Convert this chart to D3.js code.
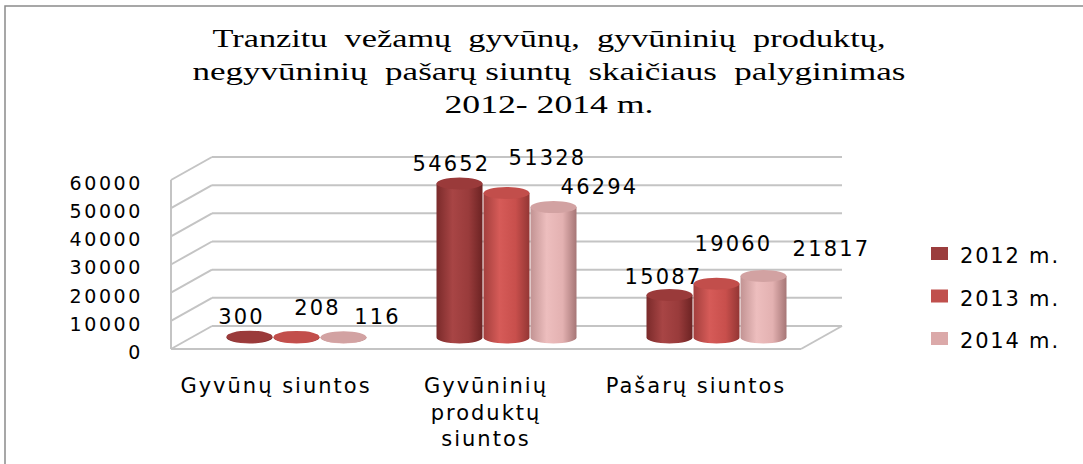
<!DOCTYPE html>
<html>
<head>
<meta charset="utf-8">
<script src="https://cdn.jsdelivr.net/npm/d3@7"></script>
<style>
  body { margin: 0; background: #fff; }
  svg { display: block; }
</style>
</head>
<body>
<div id="chart"></div>
<script>
"use strict"

// data
let titleLines = ["Tranzitu  vežamų  gyvūnų,  gyvūninių  produktų,",
                  "negyvūninių  pašarų siuntų  skaičiaus  palyginimas",
                  "2012- 2014 m."];
let categories = ["Gyvūnų siuntos", "Gyvūninių produktų siuntos", "Pašarų siuntos"];
let years = ["2012 m.", "2013 m.", "2014 m."];
let values2012 = [300, 54652, 15087];
let values2013 = [208, 51328, 19060];
let values2014 = [116, 46294, 21817];
let yTicks = [0, 10000, 20000, 30000, 40000, 50000, 60000];

let series = [values2012, values2013, values2014];

let width = 1083;
let height = 464;

// 3d box (back wall coords), depth goes down-left
let backLeft = 212, backRight = 842;
let depthX = -41, depthY = 23;

let svg = d3.select("#chart").append("svg")
            .attr("width", width)
            .attr("height", height)
            .style("font-family", "'DejaVu Sans', sans-serif");

// frame
svg.append("rect")
   .attr("x", 5).attr("y", 6)
   .attr("width", 1200).attr("height", 600)
   .attr("fill", "none")
   .attr("stroke", "#8a8a8a")
   .attr("stroke-width", 1.5);

// title
let titleWidths = [673, 713, 209];
svg.append("g").selectAll("text")
   .data(titleLines)
   .join("text")
   .attr("x", 549)
   .attr("y", (d, i) => 47 + i * 33)
   .attr("text-anchor", "middle")
   .attr("textLength", (d, i) => titleWidths[i])
   .attr("lengthAdjust", "spacingAndGlyphs")
   .style("font-family", "'Liberation Serif', serif")
   .style("font-size", "25px")
   .style("white-space", "pre")
   .attr("fill", "#000")
   .text(d => d);

let y = d3.scaleLinear()
          .domain([0, 60000])
          .range([326, 157]);

let x0 = d3.scaleBand()
           .domain(categories)
           .range([backLeft, backRight])
           .paddingInner(0)
           .paddingOuter(0);

let grid = svg.append("g")
              .attr("fill", "none")
              .attr("stroke", "#c4c4c4")
              .attr("stroke-width", 2);

// back wall gridlines + side wall
yTicks.forEach(function(t) {
  grid.append("line")
      .attr("x1", backLeft).attr("x2", backRight)
      .attr("y1", y(t)).attr("y2", y(t));
  grid.append("line")
      .attr("x1", backLeft).attr("y1", y(t))
      .attr("x2", backLeft + depthX).attr("y2", y(t) + depthY);
});
// front left edge
grid.append("line")
    .attr("x1", backLeft + depthX).attr("x2", backLeft + depthX)
    .attr("y1", y(60000) + depthY).attr("y2", y(0) + depthY);
// floor
grid.append("line")
    .attr("x1", backLeft + depthX).attr("x2", backRight + depthX)
    .attr("y1", y(0) + depthY).attr("y2", y(0) + depthY);
grid.append("line")
    .attr("x1", backRight).attr("y1", y(0))
    .attr("x2", backRight + depthX).attr("y2", y(0) + depthY);

// y axis labels
svg.append("g").selectAll("text")
   .data(yTicks)
   .join("text")
   .attr("x", 143)
   .attr("y", d => y(d) + depthY + 3)
   .attr("dy", "0.36em")
   .attr("text-anchor", "end")
   .style("font-size", "19px")
   .style("letter-spacing", "2.6px")
   .attr("fill", "#000")
   .text(d => d);

// gradients
let colors = [
  { stops: ["#7a2a2a", "#a84545", "#993b3b", "#6c2323"], top: "#9a3a3a", legend: "#9b3d3d" },
  { stops: ["#a33f3d", "#d65b58", "#c84f4c", "#933634"], top: "#c24e4b", legend: "#c0504d" },
  { stops: ["#c29393", "#edbebe", "#e3b1b1", "#a67676"], top: "#d2a2a2", legend: "#dba9a9" }
];
let defs = svg.append("defs");
colors.forEach(function(c, i) {
  let g = defs.append("linearGradient")
              .attr("id", "cyl" + i)
              .attr("x1", "0%").attr("x2", "100%")
              .attr("y1", "0%").attr("y2", "0%");
  [0, 35, 70, 100].forEach(function(o, k) {
    g.append("stop").attr("offset", o + "%").attr("stop-color", c.stops[k]);
  });
});

// cylinders sit at mid depth
let midX = depthX / 2, midY = depthY / 2;
let rx = 23, ry = 6, step = 47;

// label offsets from cylinder top [dx, dy], per series per category (excel 3d placement)
let labelOff = [
  [[-8, -13], [-8, -13], [-6, -11]],
  [[21, -22], [41, -28], [17, -33]],
  [[34, -13], [46, -13], [68, -20]]
];

let bars = svg.append("g");
let labels = svg.append("g");
series.forEach(function(vals, s) {
  vals.forEach(function(v, i) {
    let cx = x0(categories[i]) + x0.bandwidth() / 2 + midX + (s - 1) * step;
    let yb = y(0) + midY;
    let yt = y(v) + midY;
    bars.append("path")
        .attr("d", "M" + (cx - rx) + "," + yt +
                   "L" + (cx - rx) + "," + yb +
                   "A" + rx + "," + ry + " 0 0 0 " + (cx + rx) + "," + yb +
                   "L" + (cx + rx) + "," + yt + "Z")
        .attr("fill", "url(#cyl" + s + ")");
    bars.append("ellipse")
        .attr("cx", cx).attr("cy", yt)
        .attr("rx", rx).attr("ry", ry)
        .attr("fill", colors[s].top);
    labels.append("text")
          .attr("x", cx + labelOff[s][i][0])
          .attr("y", yt + labelOff[s][i][1])
          .attr("text-anchor", "middle")
          .style("font-size", "21px")
          .style("letter-spacing", "2.2px")
          .attr("fill", "#000")
          .text(v);
  });
});

// category labels, wrapped to band width
let catG = svg.append("g");
categories.forEach(function(c) {
  let cx = x0(c) + x0.bandwidth() / 2 + depthX;
  let t = catG.append("text")
              .attr("text-anchor", "middle")
              .style("font-size", "21px")
              .style("letter-spacing", "2px")
              .attr("fill", "#000");
  let words = c.split(" ");
  let lines = [];
  let line = [];
  let probe = t.append("tspan");
  words.forEach(function(w) {
    line.push(w);
    probe.text(line.join(" "));
    if (probe.node().getComputedTextLength() > x0.bandwidth() - 5 && line.length > 1) {
      line.pop();
      lines.push(line.join(" "));
      line = [w];
    }
  });
  lines.push(line.join(" "));
  probe.remove();
  lines.forEach(function(l, k) {
    t.append("tspan")
     .attr("x", cx)
     .attr("y", 393 + k * 26.5)
     .text(l);
  });
});

// legend
let legend = svg.append("g");
years.forEach(function(yr, i) {
  legend.append("rect")
        .attr("x", 931).attr("y", 247 + i * 42.5)
        .attr("width", 17).attr("height", 13)
        .attr("fill", colors[i].legend);
  legend.append("text")
        .attr("x", 960).attr("y", 263 + i * 42.5)
        .style("font-size", "21px")
        .style("letter-spacing", "1.8px")
        .attr("fill", "#000")
        .text(yr);
});
</script>
</body>
</html>
